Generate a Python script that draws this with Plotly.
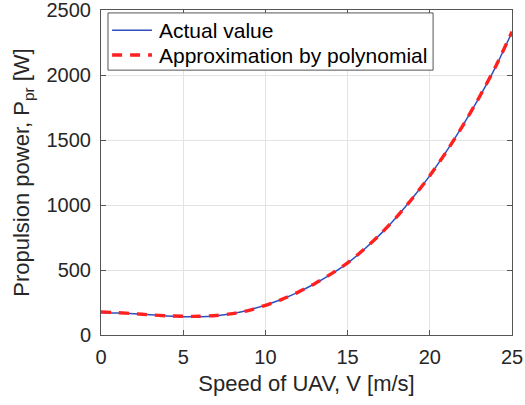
import plotly.graph_objects as go

speed = list(range(0, 26))
actual_power = [171, 169, 164, 156, 147, 141, 141, 149, 166, 193, 230, 275, 330, 394,
                468, 553, 658, 776, 910, 1061, 1226, 1410, 1610, 1826, 2061, 2330]
approx_power = [178, 172, 164, 155, 148, 144, 144, 150, 164, 190, 228, 274, 330, 395,
                470, 555, 659, 777, 910, 1060, 1225, 1408, 1609, 1827, 2064, 2333]

x_ticks = [0, 5, 10, 15, 20, 25]
y_ticks = [0, 500, 1000, 1500, 2000, 2500]
legend_labels = ["Actual value", "Approximation by polynomial"]

font_family = "Liberation Sans, Arial, sans-serif"
text_color = "#262626"
blue = "#2f4fbf"
red = "#ff2020"
red_dash = "10px,8px"

fig = go.Figure()
fig.add_trace(go.Scatter(
    x=speed, y=actual_power, mode="lines", name=legend_labels[0],
    line=dict(color=blue, width=1.5, shape="spline", smoothing=0.6),
    showlegend=False,
))
fig.add_trace(go.Scatter(
    x=speed, y=approx_power, mode="lines", name=legend_labels[1],
    line=dict(color=red, width=3.4, dash=red_dash, shape="spline", smoothing=0.6),
    showlegend=False,
))

axis_common = dict(
    showgrid=True, gridcolor="#e3e3e3", gridwidth=1,
    showline=True, linecolor="#555555", linewidth=1, mirror="ticks",
    ticks="inside", ticklen=5, tickcolor="#555555",
    zeroline=False, automargin=False, ticklabeloverflow="allow",
    tickfont=dict(family=font_family, size=20, color=text_color),
)

# Legend box (drawn in paper coordinates, MATLAB-style compact legend)
lg_x0, lg_x1, lg_y0, lg_y1 = 0.017, 0.808, 0.815, 0.991
row_y = [0.938, 0.8615]
sample_x0, sample_x1, text_x = 0.027, 0.124, 0.136
shapes = [dict(type="rect", xref="paper", yref="paper", x0=lg_x0, x1=lg_x1, y0=lg_y0, y1=lg_y1,
               line=dict(color="#555555", width=1), fillcolor="white", layer="above")]
shapes.append(dict(type="line", xref="paper", yref="paper", x0=sample_x0, x1=sample_x1,
                   y0=row_y[0], y1=row_y[0], line=dict(color=blue, width=1.5)))
shapes.append(dict(type="line", xref="paper", yref="paper", x0=sample_x0, x1=sample_x1,
                   y0=row_y[1], y1=row_y[1], line=dict(color=red, width=3.4, dash=red_dash)))
annotations = [dict(xref="paper", yref="paper", x=text_x, y=ry, text=lab, showarrow=False,
                    xanchor="left", yanchor="middle",
                    font=dict(family=font_family, size=21, color="#000000"))
               for ry, lab in zip(row_y, legend_labels)]

fig.update_layout(
    width=525, height=405,
    margin=dict(l=101, r=13, t=10, b=70),
    paper_bgcolor="white", plot_bgcolor="white",
    font=dict(family=font_family, color=text_color),
    xaxis=dict(range=[0, 25], tickvals=x_ticks, ticktext=[str(v) for v in x_ticks],
               ticklabelstandoff=4,
               title=dict(text="Speed of UAV, V [m/s]",
                          font=dict(size=22, family=font_family, color=text_color), standoff=8),
               **axis_common),
    yaxis=dict(range=[0, 2500], tickvals=y_ticks, ticktext=[str(v) for v in y_ticks],
               ticklabelstandoff=5,
               title=dict(text="Propulsion power, P<sub>pr</sub> [W]",
                          font=dict(size=22, family=font_family, color=text_color), standoff=10),
               **axis_common),
    shapes=shapes,
    annotations=annotations,
    showlegend=False,
)

fig.write_html("out.html")
